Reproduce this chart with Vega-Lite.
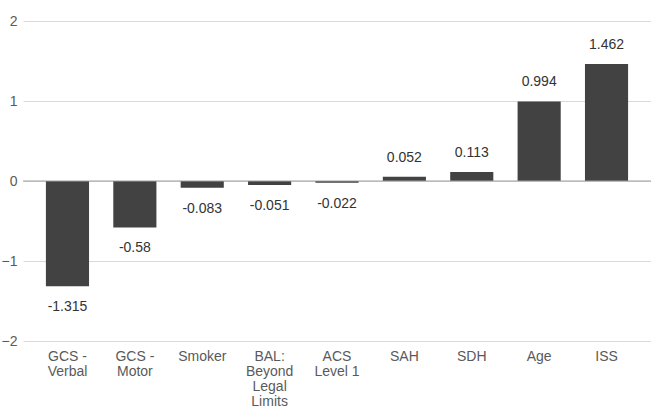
{
  "$schema": "https://vega.github.io/schema/vega-lite/v6.json",
  "autosize": "none",
  "width": 628,
  "height": 320,
  "padding": {"left": 23, "top": 21, "right": 0, "bottom": 66},
  "background": "white",
  "config": {
    "font": "Liberation Sans",
    "view": {"stroke": null}
  },
  "data": {
    "values": [
      {"factor": "GCS -|Verbal", "value": -1.315, "text": "-1.315"},
      {"factor": "GCS -|Motor", "value": -0.58, "text": "-0.58"},
      {"factor": "Smoker", "value": -0.083, "text": "-0.083"},
      {"factor": "BAL:|Beyond|Legal|Limits", "value": -0.051, "text": "-0.051"},
      {"factor": "ACS|Level 1", "value": -0.022, "text": "-0.022"},
      {"factor": "SAH", "value": 0.052, "text": "0.052"},
      {"factor": "SDH", "value": 0.113, "text": "0.113"},
      {"factor": "Age", "value": 0.994, "text": "0.994"},
      {"factor": "ISS", "value": 1.462, "text": "1.462"}
    ]
  },
  "layer": [
    {
      "mark": {"type": "bar", "color": "#424242"},
      "encoding": {
        "x": {
          "field": "factor",
          "type": "nominal",
          "sort": null,
          "scale": {"paddingInner": 0.36, "paddingOuter": 0.34},
          "axis": {
            "title": null,
            "labelAngle": 0,
            "labelExpr": "split(datum.label, '|')",
            "labelFont": "Liberation Sans",
            "labelFontSize": 14,
            "labelColor": "#5a5a5a",
            "labelLineHeight": 15,
            "labelPadding": 8,
            "ticks": false,
            "domain": false,
            "labelBaseline": "top"
          }
        },
        "y": {
          "field": "value",
          "type": "quantitative",
          "scale": {"domain": [-2, 2]},
          "axis": {
            "title": null,
            "values": [-2, -1, 0, 1, 2],
            "labelFont": "Liberation Sans",
            "labelFontSize": 14,
            "labelColor": "#5a5a5a",
            "labelPadding": 6,
            "ticks": false,
            "domain": false,
            "gridColor": "#d9d9d9",
            "format": "d"
          }
        }
      }
    },
    {
      "mark": {"type": "rule", "color": "#9e9e9e", "strokeWidth": 1},
      "data": {"values": [{"zero": 0}]},
      "encoding": {"y": {"field": "zero", "type": "quantitative"}}
    },
    {
      "transform": [{"filter": "datum.value >= 0"}],
      "mark": {"type": "text", "baseline": "bottom", "dy": -12, "fontSize": 14, "color": "#333333", "font": "Liberation Sans"},
      "encoding": {
        "x": {"field": "factor", "type": "nominal", "sort": null},
        "y": {"field": "value", "type": "quantitative"},
        "text": {"field": "text"}
      }
    },
    {
      "transform": [{"filter": "datum.value < 0"}],
      "mark": {"type": "text", "baseline": "top", "dy": 14, "fontSize": 14, "color": "#333333", "font": "Liberation Sans"},
      "encoding": {
        "x": {"field": "factor", "type": "nominal", "sort": null},
        "y": {"field": "value", "type": "quantitative"},
        "text": {"field": "text"}
      }
    }
  ]
}
